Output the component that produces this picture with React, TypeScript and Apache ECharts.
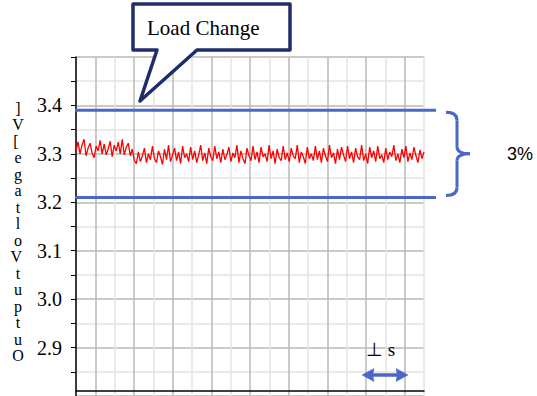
import React, { useEffect, useRef } from "react";
import * as echarts from "echarts";

// Output voltage samples (V)
const voltage = [
  3.305, 3.325, 3.300, 3.318, 3.330, 3.296, 3.312, 3.322, 3.302, 3.292,
  3.316, 3.306, 3.328, 3.300, 3.320, 3.298, 3.310, 3.326, 3.294, 3.318,
  3.306, 3.324, 3.300, 3.330, 3.298, 3.314, 3.322, 3.296, 3.310,
  3.286, 3.280, 3.304, 3.284, 3.296, 3.312, 3.282, 3.300, 3.288, 3.316,
  3.290, 3.282, 3.306, 3.294, 3.278, 3.310, 3.288, 3.318, 3.284, 3.298,
  3.312, 3.286, 3.304, 3.280, 3.316, 3.292, 3.300, 3.284, 3.314, 3.288,
  3.306, 3.282, 3.298, 3.318, 3.286, 3.302, 3.280, 3.312, 3.294, 3.286,
  3.316, 3.290, 3.304, 3.282, 3.310, 3.288, 3.298, 3.314, 3.284, 3.302,
  3.292, 3.318, 3.282, 3.306, 3.290, 3.280, 3.312, 3.296, 3.286, 3.316,
  3.288, 3.304, 3.282, 3.314, 3.294, 3.300, 3.284, 3.318, 3.290, 3.306,
  3.280, 3.310, 3.292, 3.286, 3.316, 3.288, 3.302, 3.284, 3.312, 3.296,
  3.290, 3.318, 3.282, 3.304, 3.294, 3.280, 3.314, 3.290, 3.300, 3.286,
  3.316, 3.288, 3.306, 3.282, 3.312, 3.296, 3.284, 3.318, 3.292, 3.302,
  3.280, 3.310, 3.288, 3.314, 3.298, 3.284, 3.316, 3.290, 3.304, 3.282,
  3.312, 3.294, 3.288, 3.318, 3.286, 3.300, 3.280, 3.314, 3.292, 3.306,
  3.284, 3.316, 3.290, 3.298, 3.282, 3.312, 3.288, 3.304, 3.294, 3.318,
  3.286, 3.300, 3.282, 3.310, 3.292, 3.316, 3.284, 3.302, 3.288, 3.314,
  3.296, 3.282, 3.308, 3.290, 3.304,
];

const yLabelValues = [2.9, 3.0, 3.1, 3.2, 3.3, 3.4];
const bandLimits = [3.39, 3.21];
const yAxisTitle = "Output Voltage [V]";
const calloutText = "Load Change";
const bandText = "3%";
const scaleText = "⊥ s";

const SERIF = "'Liberation Serif', 'Times New Roman', serif";
const BLUE = "#4a67c8";
const NAVY = "#1f2d6b";

// stack the title's characters upright, last character on top (as in the reference)
function stackTitle(t: string): string {
  const lines: string[] = [];
  const chars = t.split("").reverse();
  for (const c of chars) {
    if (c === " " && lines.length) lines[lines.length - 1] += c;
    else lines.push(c);
  }
  return lines.join("\n");
}

export default function App() {
  const ref = useRef<HTMLDivElement>(null);
  useEffect(() => {
    const chart = echarts.init(ref.current!, null, { renderer: "svg" });
    chart.setOption({
      animation: false,
      backgroundColor: "#ffffff",
      grid: { left: 76, right: 113, top: 57, bottom: -4 },
      xAxis: [
        {
          type: "value",
          min: 0,
          max: 18,
          interval: 1,
          offset: -5,
          axisLine: { show: true, lineStyle: { color: "#000", width: 1.5 } },
          axisTick: { show: false },
          axisLabel: { show: false },
          splitLine: { show: true, lineStyle: { color: ["#e3e3e3", "#b8b8b8"], width: 1.5 } },
        },
        {
          type: "category",
          show: false,
          boundaryGap: false,
          data: voltage.map((_, i) => String(i)),
        },
      ],
      yAxis: {
        type: "value",
        min: 2.8,
        max: 3.5,
        interval: 0.05,
        axisLine: { show: true, lineStyle: { color: "#000", width: 1.5 } },
        axisTick: { show: true, inside: false, length: 5, lineStyle: { color: "#000" } },
        axisLabel: {
          margin: 14,
          color: "#000",
          fontFamily: SERIF,
          fontSize: 20,
          formatter: (v: number) => {
            const hit = yLabelValues.find((t) => Math.abs(t - v) < 1e-6);
            return hit !== undefined ? hit.toFixed(1) : "";
          },
        },
        splitLine: { show: true, lineStyle: { color: ["#b8b8b8", "#e3e3e3"], width: 1.5 } },
      },
      series: [
        {
          type: "line",
          xAxisIndex: 1,
          data: voltage,
          symbol: "none",
          lineStyle: { color: "#ff0000", width: 1.3 },
          z: 3,
        },
      ],
    });

    const yTop = chart.convertToPixel({ yAxisIndex: 0 }, bandLimits[0]) as number;
    const yBot = chart.convertToPixel({ yAxisIndex: 0 }, bandLimits[1]) as number;
    const mid = (yTop + yBot) / 2;
    const braceStyle = { stroke: BLUE, lineWidth: 3, fill: null };

    chart.setOption({
      graphic: [
        { type: "line", shape: { x1: 75, y1: yTop, x2: 436, y2: yTop }, style: { stroke: BLUE, lineWidth: 3 }, z: 10 },
        { type: "line", shape: { x1: 75, y1: yBot, x2: 436, y2: yBot }, style: { stroke: BLUE, lineWidth: 3 }, z: 10 },
        { type: "bezierCurve", shape: { x1: 446, y1: yTop + 2, cpx1: 457, cpy1: yTop + 2, x2: 457, y2: yTop + 10 }, style: braceStyle, z: 10 },
        { type: "line", shape: { x1: 457, y1: yTop + 10, x2: 457, y2: mid - 7 }, style: braceStyle, z: 10 },
        { type: "bezierCurve", shape: { x1: 457, y1: mid - 7, cpx1: 457, cpy1: mid, x2: 470, y2: mid }, style: braceStyle, z: 10 },
        { type: "bezierCurve", shape: { x1: 457, y1: mid + 7, cpx1: 457, cpy1: mid, x2: 470, y2: mid }, style: braceStyle, z: 10 },
        { type: "line", shape: { x1: 457, y1: mid + 7, x2: 457, y2: yBot - 10 }, style: braceStyle, z: 10 },
        { type: "bezierCurve", shape: { x1: 457, y1: yBot - 10, cpx1: 457, cpy1: yBot - 2, x2: 446, y2: yBot - 2 }, style: braceStyle, z: 10 },
        {
          type: "text",
          x: 507,
          y: mid,
          style: { text: bandText, fontFamily: "'Liberation Sans', Arial, sans-serif", fontSize: 18, fill: "#000", textVerticalAlign: "middle" },
          z: 10,
        },
        {
          type: "polygon",
          shape: {
            points: [
              [133, 4], [290, 4], [290, 50], [197, 50], [140, 101], [157, 50], [133, 50],
            ],
          },
          style: { fill: "#fff", stroke: NAVY, lineWidth: 3.5, lineJoin: "round" },
          z: 10,
        },
        {
          type: "text",
          x: 147,
          y: 28,
          style: { text: calloutText, fontFamily: SERIF, fontSize: 21, fill: "#000", textVerticalAlign: "middle" },
          z: 11,
        },
        {
          type: "text",
          x: 366,
          y: 349,
          style: { text: scaleText, fontFamily: SERIF, fontSize: 19, fill: "#000", textVerticalAlign: "middle" },
          z: 10,
        },
        {
          type: "polygon",
          shape: {
            points: [
              [362, 375], [374, 368.5], [373, 373.5], [397, 373.5], [396, 368.5], [408, 375],
              [396, 381.5], [397, 376.5], [373, 376.5], [374, 381.5],
            ],
          },
          style: { fill: BLUE, stroke: BLUE, lineWidth: 0.5 },
          z: 10,
        },
        {
          type: "text",
          x: 18,
          y: 232,
          style: {
            text: stackTitle(yAxisTitle),
            fontFamily: SERIF,
            fontSize: 16,
            lineHeight: 16.5,
            fill: "#000",
            textAlign: "center",
            textVerticalAlign: "middle",
          },
          z: 10,
        },
      ],
    });

    return () => chart.dispose();
  }, []);
  return <div ref={ref} style={{ position: "fixed", left: 0, top: 0, width: 537, height: 396 }} />;
}
